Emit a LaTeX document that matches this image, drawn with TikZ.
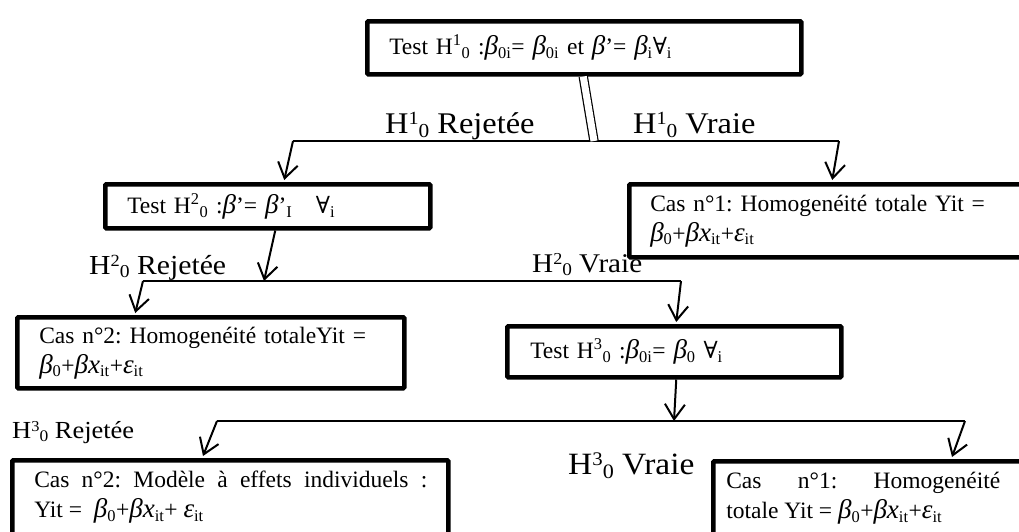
\documentclass[tikz,border=0pt]{standalone}
\usepackage{fontspec}
\setmainfont{Liberation Serif}
\newfontfamily\labfont[FakeStretch=1.08]{Liberation Serif}
\newfontfamily\symfont{DejaVu Serif}
\usetikzlibrary{arrows.meta}
\frenchspacing
\newcommand{\sbs}[1]{\textsubscript{#1}}
\newcommand{\sps}[1]{\textsuperscript{#1}}
\newcommand{\lsps}[1]{\raisebox{0.27em}{\scalebox{0.62}{#1}}}
\newcommand{\lsbs}[1]{\raisebox{-0.14em}{\scalebox{0.66}{#1}}}
\newcommand{\bet}{\scalebox{1.15}{\textit{β}}}
\newcommand{\xx}{\scalebox{1.15}{\textit{x}}}
\newcommand{\eps}{\scalebox{1.15}{\textit{ε}}}
\newcommand{\fa}{{\symfont ∀}}
\begin{document}
\begin{tikzpicture}[x=1pt,y=-1pt,
  box/.style={draw, line width=4.5pt, rounded corners=1pt, anchor=north west,
    inner ysep=0pt, align=left, font=\fontsize{23.5}{30}\selectfont},
  thinline/.style={line width=1.3pt},
  arr/.style={line width=2pt, -{Straight Barb[length=15pt,width=20pt]}},
  dbl/.style={double, double distance=7pt, line width=1.2pt},
  lab/.style={anchor=base west, inner sep=0pt}]
\clip (0,0) rectangle (1019,531);
% boxes
\node[box, minimum width=434pt, minimum height=53pt, inner xsep=22pt, text width=390pt] (t1) at (365,19)
  {Test H\sps{1}\sbs{0} :\bet\sbs{0i}= \bet\sbs{0i} et \bet’= \bet\sbs{i}\fa\sbs{i}};
\node[box, minimum width=325pt, minimum height=44pt, inner xsep=22pt, text width=281pt] (t2) at (103,182)
  {Test H\sps{2}\sbs{0} :\bet’= \bet’\sbs{I}\quad\fa\sbs{i}};
\node[box, minimum width=420pt, minimum height=73pt, inner xsep=21pt, text width=378pt] (c1) at (627,182)
  {Cas n°1: Homogenéité totale Yit =\\ \bet\sbs{0}+\bet\xx\sbs{it}+\eps\sbs{it}};
\node[box, minimum width=387pt, minimum height=71pt, inner xsep=22pt, text width=343pt] (c2) at (15,315)
  {Cas n°2: Homogenéité totaleYit =\\ \bet\sbs{0}+\bet\xx\sbs{it}+\eps\sbs{it}};
\node[box, minimum width=334pt, minimum height=51pt, inner xsep=23pt, text width=288pt] (t3) at (505,324)
  {Test H\sps{3}\sbs{0} :\bet\sbs{0i}= \bet\sbs{0} \fa\sbs{i}};
\node[box, inner xsep=22pt, inner ysep=0pt] (c3) at (10,458)
  {\parbox[c][100pt][t]{392pt}{\vspace*{11pt}\makebox[393pt][s]{Cas n°2: Modèle à effets individuels :}\\
   Yit = \ \bet\sbs{0}+\bet\xx\sbs{it}+ \eps\sbs{it}}};
\node[box, inner xsep=13pt, inner ysep=0pt] (c4) at (711,459)
  {\parbox[c][100pt][t]{330pt}{\vspace*{11pt}\makebox[274pt][s]{Cas n°1: Homogenéité}\\
   totale Yit = \bet\sbs{0}+\bet\xx\sbs{it}+\eps\sbs{it}}};
% branch coordinates
\coordinate (b1L) at (293,141); \coordinate (b1R) at (839,141); \coordinate (b1M) at (594,141);
\coordinate (b2L) at (143,281); \coordinate (b2R) at (681,281); \coordinate (b2M) at (264,281);
\coordinate (b3L) at (217,421); \coordinate (b3R) at (965,421); \coordinate (b3M) at (674,421);
% lines
\draw[thinline] (b1L) -- (b1R);
\draw[thinline] (b2L) -- (b2R);
\draw[thinline] (b3L) -- (b3R);
\draw[dbl] ([xshift=-1pt]t1.south) -- (b1M);
\draw[arr] (b1L) -- ([xshift=16.5pt,yshift=2pt]t2.north);
\draw[arr] (b1R) -- ([xshift=-7pt,yshift=2pt]c1.north);
\draw[arr] ([xshift=7.5pt]t2.south) -- (b2M);
\draw[arr] (b2L) -- ([xshift=-75.5pt,yshift=2pt]c2.north);
\draw[arr] (b2R) -- ([xshift=2pt,yshift=2pt]t3.north);
\draw[arr] ([xshift=2pt]t3.south) -- (b3M);
\draw[arr] (b3L) -- ([yshift=2pt]c3.north west -| 203,0);
\draw[arr] (b3R) -- ([yshift=2pt]c4.north west -| 952,0);
% labels
\node[lab, font=\labfont\fontsize{30}{32}\selectfont] (l1) at (385,133) {H\lsps{1}\lsbs{0} Rejetée};
\node[lab, font=\labfont\fontsize{30}{32}\selectfont] (l2) at (633,133) {H\lsps{1}\lsbs{0} Vraie};
\node[lab, font=\labfont\fontsize{27.5}{30}\selectfont] (l3) at (89,274) {H\lsps{2}\lsbs{0} Rejetée};
\node[lab, font=\labfont\fontsize{27}{30}\selectfont] (l4) at (532,272) {H\lsps{2}\lsbs{0} Vraie};
\node[lab, font=\labfont\fontsize{24.5}{30}\selectfont] (l5) at (12,438) {H\lsps{3}\lsbs{0} Rejetée};
\node[lab, font=\labfont\fontsize{31}{32}\selectfont] (l6) at (568,474) {H\lsps{3}\lsbs{0} Vraie};
\end{tikzpicture}
\end{document}
